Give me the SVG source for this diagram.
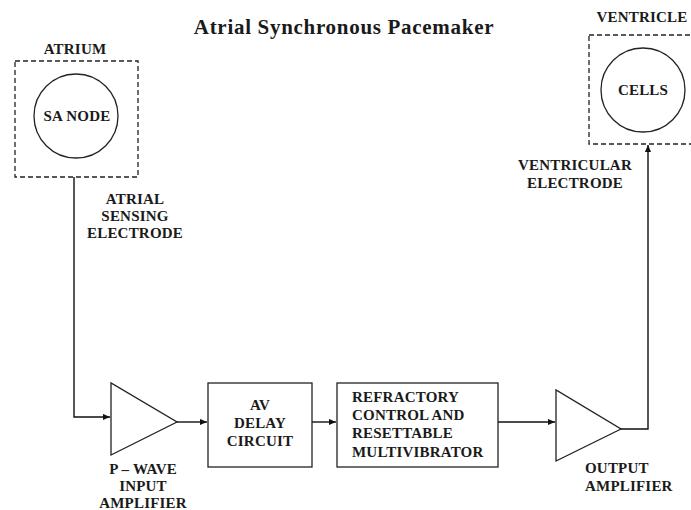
<svg xmlns="http://www.w3.org/2000/svg" width="691" height="510" viewBox="0 0 691 510">
<style>
text{font-family:"Liberation Serif","Times New Roman",serif;font-weight:bold;fill:#1a1a1a}
.t{font-size:21px;letter-spacing:0.7px}
.l{font-size:15px;letter-spacing:0.2px}
.c{text-anchor:middle}
.dash{fill:none;stroke:#222;stroke-width:1.3;stroke-dasharray:5,3}
.sh{fill:#fff;stroke:#222;stroke-width:1.3}
.w{fill:none;stroke:#111;stroke-width:1.4}
</style>
<defs>
<marker id="ah" viewBox="0 0 8 8" refX="8" refY="4" markerWidth="7" markerHeight="7" markerUnits="userSpaceOnUse" orient="auto">
<path d="M0,0.5 L8,4 L0,7.5 z" fill="#111"/>
</marker>
</defs>
<rect width="691" height="510" fill="#fff"/>
<text class="t c" x="344" y="34">Atrial Synchronous Pacemaker</text>

<g id="connectors">
<polyline class="w" points="74,177 74,417 110,417" marker-end="url(#ah)"/>
<line class="w" x1="177" y1="422" x2="207" y2="422" marker-end="url(#ah)"/>
<line class="w" x1="312" y1="422" x2="336" y2="422" marker-end="url(#ah)"/>
<line class="w" x1="498" y1="422" x2="555" y2="422" marker-end="url(#ah)"/>
<polyline class="w" points="621,429 648,429 648,145" marker-end="url(#ah)"/>
</g>

<g id="atrium">
<text class="l c" x="75" y="54">ATRIUM</text>
<rect class="dash" x="15" y="61" width="123" height="116"/>
</g>
<g id="sa-node">
<circle class="sh" cx="76" cy="116" r="42"/>
<text class="l c" x="77" y="121">SA NODE</text>
</g>
<g id="atrial-electrode-label">
<text class="l c" x="135" y="204">ATRIAL</text>
<text class="l c" x="135" y="221">SENSING</text>
<text class="l c" x="135" y="238">ELECTRODE</text>
</g>

<g id="ventricle">
<text class="l c" x="642" y="22">VENTRICLE</text>
<rect class="dash" x="589" y="35" width="110" height="109"/>
</g>
<g id="cells">
<circle class="sh" cx="643" cy="90" r="42"/>
<text class="l c" x="643" y="95">CELLS</text>
</g>
<g id="ventricular-electrode-label">
<text class="l c" x="575" y="170">VENTRICULAR</text>
<text class="l c" x="575" y="188">ELECTRODE</text>
</g>

<g id="p-wave-amplifier">
<polygon class="sh" points="111,383 111,455 177,422"/>
<text class="l c" x="143" y="474">P – WAVE</text>
<text class="l c" x="143" y="491">INPUT</text>
<text class="l c" x="143" y="508">AMPLIFIER</text>
</g>

<g id="av-delay">
<rect class="sh" x="208" y="383" width="104" height="84"/>
<text class="l c" x="260" y="410">AV</text>
<text class="l c" x="260" y="428">DELAY</text>
<text class="l c" x="260" y="446">CIRCUIT</text>
</g>

<g id="refractory">
<rect class="sh" x="337" y="383" width="161" height="84"/>
<text class="l" x="352" y="402">REFRACTORY</text>
<text class="l" x="352" y="420">CONTROL AND</text>
<text class="l" x="352" y="438">RESETTABLE</text>
<text class="l" x="352" y="457">MULTIVIBRATOR</text>
</g>

<g id="output-amplifier">
<polygon class="sh" points="556,390 556,461 621,429"/>
<text class="l" x="585" y="473">OUTPUT</text>
<text class="l" x="585" y="491">AMPLIFIER</text>
</g>
</svg>
